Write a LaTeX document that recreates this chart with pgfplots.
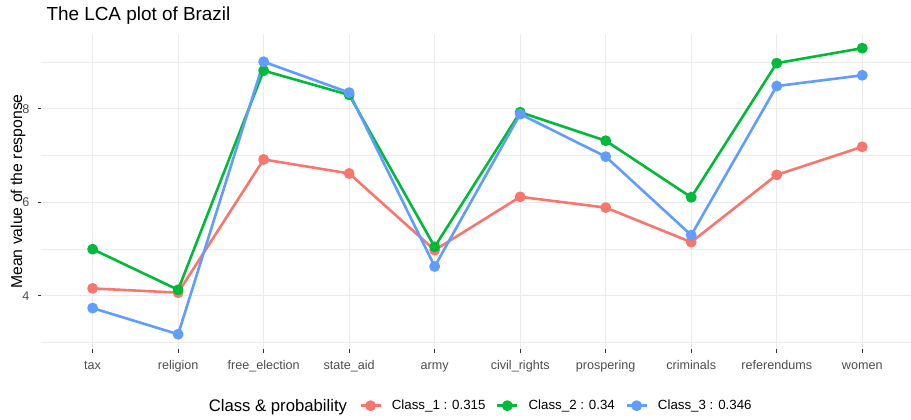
\documentclass[border=0pt]{standalone}
\usepackage{pgfplots}
\pgfplotsset{compat=1.18}
\usepackage{pgfplotstable}
\usepackage{fontspec}
\setmainfont{Liberation Sans}

\definecolor{cOne}{HTML}{F8766D}
\definecolor{cTwo}{HTML}{00BA38}
\definecolor{cThree}{HTML}{619CFF}
\definecolor{gridgray}{HTML}{EBEBEB}
\definecolor{gray30}{HTML}{4D4D4D}
\definecolor{gray20}{HTML}{333333}

% mean response per item for each latent class
\pgfplotstableread{
x  c1    c2    c3
0  4.16  5.00  3.74
1  4.07  4.13  3.18
2  6.92  8.82  9.01
3  6.62  8.30  8.35
4  4.98  5.05  4.63
5  6.12  7.93  7.89
6  5.89  7.32  6.98
7  5.15  6.11  5.30
8  6.59  8.98  8.49
9  7.19  9.30  8.72
}\lcadata

\begin{document}
\begin{tikzpicture}[x=1pt,y=1pt]
\path[use as bounding box] (0,0) rectangle (911,420);
\begin{axis}[
  at={(41.3pt,70.8pt)}, anchor=south west,
  scale only axis, width=869.7pt, height=315.5pt,
  xmin=-0.6, xmax=9.57, ymin=2.86, ymax=9.61,
  axis line style={draw=none},
  xtick pos=bottom, ytick pos=left,
  xtick={0,...,9},
  xticklabels={tax,religion,free\_election,state\_aid,army,civil\_rights,prospering,criminals,referendums,women},
  ytick={4,6,8}, minor ytick={3,5,7,9},
  grid=both,
  major grid style={draw=gridgray, line width=1.1pt},
  minor grid style={draw=gridgray, line width=0.55pt},
  tick align=outside,
  major tick length=3.8pt, minor tick length=0pt,
  major tick style={draw=gray20, line width=0.9pt},
  ticklabel style={font=\fontsize{12.6}{14}\selectfont, text=gray30},
  xticklabel style={anchor=base, inner sep=0pt, yshift=-16.8pt},
  yticklabel style={anchor=east, inner sep=0pt, xshift=-8pt},
  xticklabel shift=0pt, yticklabel shift=0pt,
  /pgf/number format/assume math mode=true,
  legend columns=-1,
  legend style={at={(0.3656,-0.1791)}, anchor=west, draw=none, fill=none,
    inner sep=0pt, outer sep=0pt,
    nodes={inner sep=0pt},
    font=\fontsize{13.3}{15}\selectfont,
    /tikz/every odd column/.append style={column sep=10pt},
    /tikz/every even column/.append style={column sep=10.5pt}},
  legend image code/.code={%
    \draw[mark repeat=2,mark phase=2,#1] plot coordinates {(0pt,0pt) (10pt,0pt) (20pt,0pt)};},
  every axis plot/.append style={line width=2.6pt, mark=*, mark size=4.1pt, line join=round},
]
\addplot[cOne]   table[x=x,y=c1]{\lcadata};
\addlegendentry{Class\_1 : 0.315}
\addplot[cTwo]   table[x=x,y=c2]{\lcadata};
\addlegendentry{Class\_2 : 0.34}
\addplot[cThree] table[x=x,y=c3]{\lcadata};
\addlegendentry{Class\_3 : 0.346}
\end{axis}
\node[anchor=base west, font=\fontsize{18.9}{22}\selectfont] at (43,399) {The LCA plot of Brazil};
\node[rotate=90, anchor=base, font=\fontsize{15.75}{18}\selectfont] at (22,228.5) {Mean value of the response};
\node[anchor=base west, inner sep=0pt, font=\fontsize{16.7}{19}\selectfont] at (208.6,8) {Class \& probability};
\end{tikzpicture}
\end{document}
